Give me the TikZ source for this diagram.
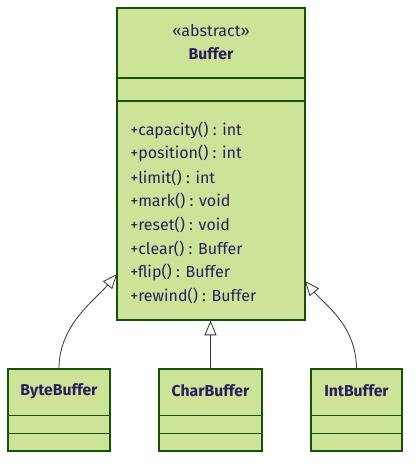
\documentclass[tikz,border=0pt]{standalone}
\usepackage{fontspec}
\setmainfont{Fira Sans}
\usepackage{tikz}
\usetikzlibrary{arrows.meta}
\usepackage{xcolor}
\definecolor{classfill}{HTML}{CDE498}
\definecolor{classedge}{HTML}{13540C}
\definecolor{classtext}{HTML}{2B1E5C}

\begin{document}
\begin{tikzpicture}[x=0.75pt, y=-0.75pt,
    classbox/.style={draw=classedge, fill=classfill, line width=0.9pt, inner sep=0pt},
    classline/.style={draw=classedge, line width=0.8pt},
    inherit/.style={draw=black!80, line width=0.6pt, -{Triangle[open, fill=white, length=11pt, width=9pt]}},
    membertext/.style={text=classtext, inner sep=0pt, font=\fontsize{12}{14}\selectfont},
    nametext/.style={text=classtext, inner sep=0pt, font=\fontsize{11.8}{14}\selectfont\bfseries}]
        \useasboundingbox (0,0) rectangle (417,468);
        % abstract class
        \node[classbox, minimum width=141pt, minimum height=234pt] (buffer) at (211,164) {};
        \draw[classline] (buffer.west |- 0,78) -- (buffer.east |- 0,78);
        \draw[classline] (buffer.west |- 0,101) -- (buffer.east |- 0,101);
        \node[membertext] (stereo) at (211,31) {«abstract»};
        \node[nametext] (buffername) at (211,54) {Buffer};
        \foreach \m [count=\i from 0] in {+capacity() : int, +position() : int, +limit() : int, +mark() : void, +reset() : void, +clear() : Buffer, +flip() : Buffer, +rewind() : Buffer} {
                \node[membertext, anchor=west] (m\i) at (130, 130+23.7*\i) {\m};
            }
        % subclasses
        \foreach \name/\cx/\w in {ByteBuffer/59/76.5, CharBuffer/210.5/77.25, IntBuffer/356.5/68.25} {
                \node[classbox, minimum width=\w pt, minimum height=61.5pt] (\name) at (\cx,410) {};
                \draw[classline] (\name.west |- 0,415.5) -- (\name.east |- 0,415.5);
                \draw[classline] (\name.west |- 0,433.5) -- (\name.east |- 0,433.5);
                \node[nametext] (\name label) at (\cx,391) {\name};
            }
        \coordinate (bytetip) at (117,274);
        \coordinate (inttip) at (305,281);
        \draw[inherit] (ByteBuffer.north) .. controls (59,325) and (95,300) .. (bytetip);
        \draw[inherit] (CharBuffer.north) -- (CharBuffer.north |- buffer.south);
        \draw[inherit] (IntBuffer.north) .. controls (356,325) and (325,305) .. (inttip);
\end{tikzpicture}
\end{document}
